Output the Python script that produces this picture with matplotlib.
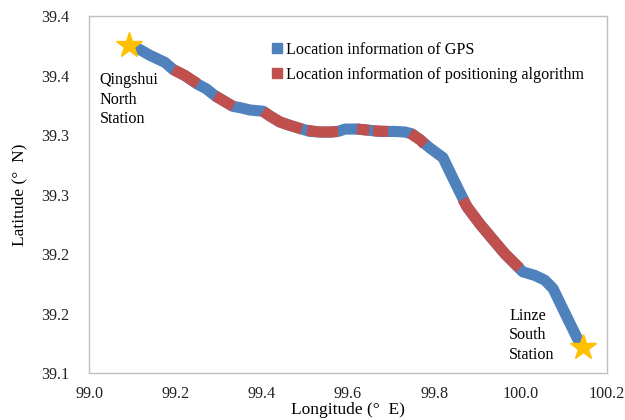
import matplotlib
matplotlib.use("Agg")
import matplotlib.pyplot as plt
import numpy as np

plt.rcParams['font.family'] = ['Liberation Serif', 'DejaVu Serif']

# GPS route (lon, lat)
gps_lon = [99.107, 99.141, 99.176, 99.195, 99.222, 99.250, 99.271, 99.292, 99.315,
           99.334, 99.350, 99.373, 99.403, 99.419, 99.442, 99.466, 99.493, 99.512,
           99.535, 99.558, 99.577, 99.593, 99.621, 99.649, 99.674, 99.709, 99.732,
           99.748, 99.767, 99.790, 99.820, 99.848, 99.876, 99.906, 99.936, 99.964,
           99.991, 100.005, 100.033, 100.056, 100.075, 100.103, 100.130, 100.142]
gps_lat = [39.374, 39.367, 39.361, 39.355, 39.350, 39.343, 39.339, 39.333, 39.328,
           39.324, 39.323, 39.321, 39.320, 39.316, 39.311, 39.308, 39.305, 39.303,
           39.3025, 39.3025, 39.303, 39.305, 39.305, 39.304, 39.303, 39.303, 39.3025,
           39.301, 39.296, 39.289, 39.281, 39.260, 39.2395, 39.225, 39.212, 39.200,
           39.190, 39.185, 39.182, 39.178, 39.171, 39.150, 39.130, 39.122]

# positioning algorithm segments
algo_segments = [
    ([99.195, 99.222, 99.252], [39.355, 39.350, 39.343]),
    ([99.292, 99.315, 99.334], [39.333, 39.328, 39.324]),
    ([99.403, 99.419, 99.442, 99.466, 99.493], [39.320, 39.316, 39.311, 39.308, 39.305]),
    ([99.505, 99.535, 99.558, 99.577], [39.304, 39.3025, 39.3025, 39.303]),
    ([99.621, 99.649], [39.305, 39.304]),
    ([99.658, 99.693], [39.3035, 39.303]),
    ([99.744, 99.767, 99.778], [39.3015, 39.296, 39.292]),
    ([99.866, 99.876, 99.906, 99.936, 99.964, 99.998], [39.246, 39.2395, 39.225, 39.212, 39.200, 39.188]),
]

stations_lon = [99.093, 100.144]
stations_lat = [39.376, 39.122]

x_ticks = [99.0, 99.2, 99.4, 99.6, 99.8, 100.0, 100.2]
x_labels = ['99.0', '99.2', '99.4', '99.6', '99.8', '100.0', '100.2']
y_ticks = [39.10, 39.15, 39.20, 39.25, 39.30, 39.35, 39.40]
y_labels = ['39.1', '39.2', '39.2', '39.3', '39.3', '39.4', '39.4']

blue = '#4F81BD'
red = '#C0504D'

fig = plt.figure(figsize=(6.25, 4.2), dpi=100)
ax = fig.add_axes([0.1424, 0.1119, 0.8288, 0.8500])

ax.plot(gps_lon, gps_lat, color=blue, lw=8, solid_capstyle='butt',
        solid_joinstyle='round', zorder=2)
for lo, la in algo_segments:
    ax.plot(lo, la, color=red, lw=8, solid_capstyle='butt',
            solid_joinstyle='round', zorder=3)

ax.plot(stations_lon, stations_lat, linestyle='none', marker='*', color='#FFC000',
        markersize=19, zorder=4)

# legend (square markers like Excel)
ax.plot([], [], 's', color=blue, markersize=7, label='Location information of GPS')
ax.plot([], [], 's', color=red, markersize=7, label='Location information of positioning algorithm')
ax.legend(loc='upper left', bbox_to_anchor=(0.342, 0.945), frameon=False,
          fontsize=11.6, handlelength=0.6, handletextpad=0.25, labelspacing=0.55,
          borderaxespad=0)

ax.text(99.025, 39.353, 'Qingshui\nNorth\nStation', fontsize=11.6, va='top', ha='left',
        linespacing=1.3)
ax.text(99.973, 39.155, 'Linze\nSouth\nStation', fontsize=11.6, va='top', ha='left',
        linespacing=1.3)

ax.set_xlim(99.0, 100.2)
ax.set_ylim(39.1, 39.4)
ax.set_xticks(x_ticks)
ax.set_xticklabels(x_labels)
ax.set_yticks(y_ticks)
ax.set_yticklabels(y_labels)
ax.tick_params(length=0, labelsize=11.6, colors='#222222')
ax.tick_params(axis='x', pad=9)
ax.tick_params(axis='y', pad=14)

for s in ax.spines.values():
    s.set_color('#BFBFBF')
    s.set_linewidth(1.0)

ax.set_xlabel('Longitude (°  E)', fontsize=12.5, labelpad=0.5)
ax.set_ylabel('Latitude (°  N)', fontsize=12.5, labelpad=10)

fig.savefig('out.png', dpi=100)
